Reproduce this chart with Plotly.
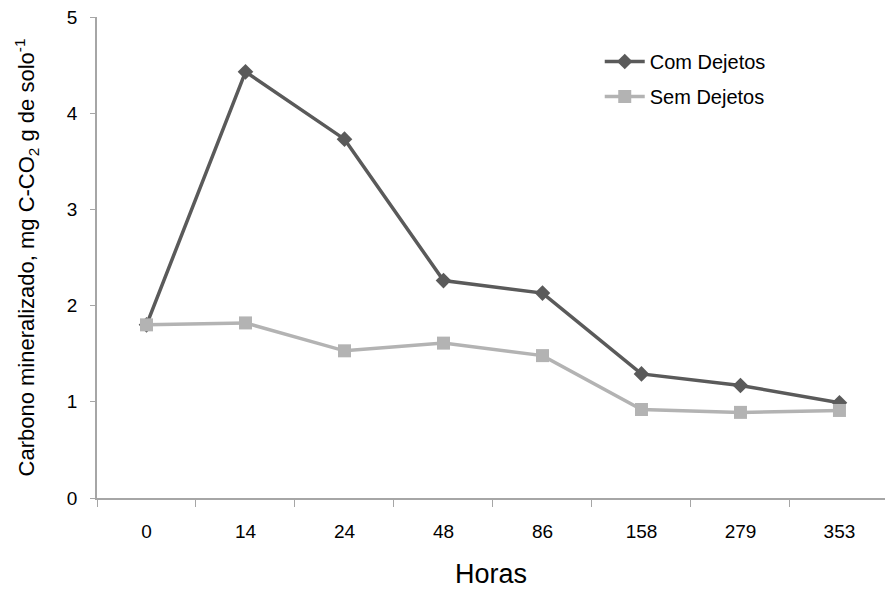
import plotly.graph_objects as go

horas = ["0", "14", "24", "48", "86", "158", "279", "353"]
com_dejetos = [1.80, 4.43, 3.73, 2.26, 2.13, 1.29, 1.17, 0.99]
sem_dejetos = [1.80, 1.82, 1.53, 1.61, 1.48, 0.92, 0.89, 0.91]

fig = go.Figure()
fig.add_trace(go.Scatter(
    x=horas, y=com_dejetos, name="Com Dejetos", mode="lines+markers",
    legendgroup="com",
    line=dict(color="#5a5a5a", width=3.5),
    marker=dict(symbol="diamond", size=12, color="#5a5a5a"),
))
fig.add_trace(go.Scatter(
    x=horas, y=sem_dejetos, name="Sem Dejetos", mode="lines+markers",
    legendgroup="sem",
    line=dict(color="#b3b3b3", width=3.5),
    marker=dict(symbol="square", size=13, color="#b3b3b3"),
))

axis_color = "#a6a6a6"
fig.update_layout(
    width=885, height=591,
    margin=dict(l=97, r=0, t=17, b=93),
    paper_bgcolor="white", plot_bgcolor="white",
    font=dict(family="Liberation Sans, Arial, sans-serif", color="black", size=19),
    showlegend=True,
    legend=dict(x=0.638, y=0.948, xanchor="left", yanchor="top",
                traceorder="grouped", font=dict(size=20),
                bgcolor="rgba(0,0,0,0)", itemwidth=40, tracegroupgap=6),
    xaxis=dict(
        type="category", range=[-0.5, 7.46],
        showline=True, linecolor=axis_color, linewidth=1.5,
        showgrid=False, ticks="outside", ticklen=7, tickcolor=axis_color,
        tickson="boundaries", tickfont=dict(size=19), ticklabelstandoff=15,
        title=dict(text="Horas", font=dict(size=27), standoff=24),
        zeroline=False,
    ),
    yaxis=dict(
        range=[0, 5], dtick=1, tick0=0,
        showline=True, linecolor=axis_color, linewidth=1.5,
        showgrid=False, ticks="outside", ticklen=5, tickcolor=axis_color,
        tickfont=dict(size=19), zeroline=False, ticklabelstandoff=9,
        title=dict(text="Carbono mineralizado, mg C-CO<sub>2</sub> g de solo<sup>-1</sup>",
                   font=dict(size=22), standoff=26),
    ),
)

fig.write_html("out.html", config={"displayModeBar": False},
               post_script="document.body.style.margin='0';")
